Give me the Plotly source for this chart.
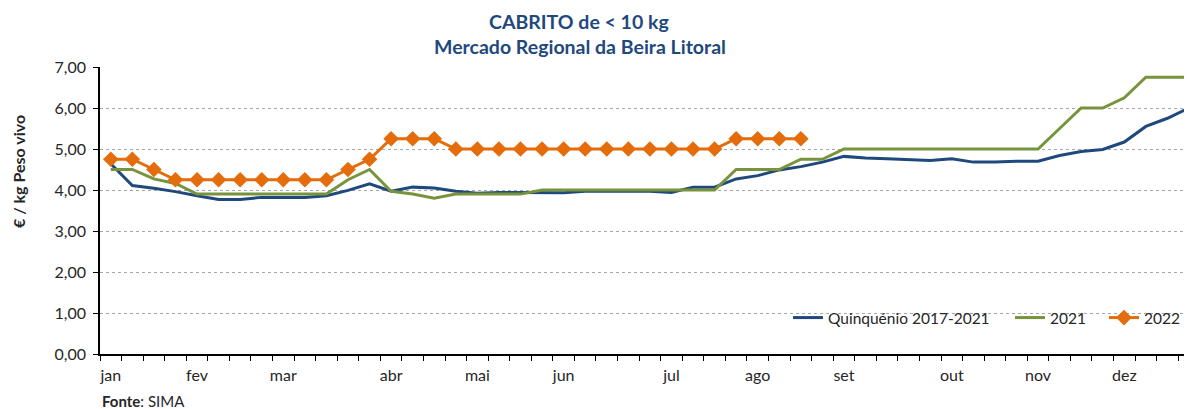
import plotly.graph_objects as go

weeks = list(range(51))
month_idx = [0, 4, 8, 13, 17, 21, 26, 30, 34, 39, 43, 47]
month_lbl = ["jan", "fev", "mar", "abr", "mai", "jun", "jul", "ago", "set", "out", "nov", "dez"]

quinq = [4.64, 4.11, 4.04, 3.96, 3.86, 3.77, 3.77, 3.82, 3.82, 3.82, 3.86, 3.99, 4.15,
         3.97, 4.07, 4.05, 3.97, 3.92, 3.94, 3.94, 3.93, 3.93, 3.97, 3.97, 3.97, 3.97,
         3.94, 4.07, 4.07, 4.27, 4.35, 4.49, 4.57, 4.68, 4.82, 4.78, 4.76, 4.74, 4.72,
         4.76, 4.68, 4.68, 4.70, 4.70, 4.84, 4.94, 4.99, 5.17, 5.55, 5.75, 6.00]
y2021 = [4.50, 4.50, 4.27, 4.16, 3.90, 3.90, 3.90, 3.90, 3.90, 3.90, 3.90, 4.25, 4.50,
         3.97, 3.90, 3.80, 3.90, 3.90, 3.90, 3.90, 4.00, 4.00, 4.00, 4.00, 4.00, 4.00,
         4.00, 4.00, 4.00, 4.50, 4.50, 4.50, 4.75, 4.75, 5.00, 5.00, 5.00, 5.00, 5.00,
         5.00, 5.00, 5.00, 5.00, 5.00, 5.50, 6.00, 6.00, 6.25, 6.75, 6.75, 6.75]
y2022 = [4.75, 4.75, 4.50, 4.25, 4.25, 4.25, 4.25, 4.25, 4.25, 4.25, 4.25, 4.50, 4.75,
         5.25, 5.25, 5.25, 5.00, 5.00, 5.00, 5.00, 5.00, 5.00, 5.00, 5.00, 5.00, 5.00,
         5.00, 5.00, 5.00, 5.25, 5.25, 5.25, 5.25]
y_ticks = [0, 1, 2, 3, 4, 5, 6, 7]
y_ticktext = ["0,00", "1,00", "2,00", "3,00", "4,00", "5,00", "6,00", "7,00"]

FONT = "Lato"
BLUE = "#1F497D"
GREEN = "#77933C"
ORANGE = "#E46C0A"
TXT = "#262626"

fig = go.Figure()
fig.add_trace(go.Scatter(x=weeks, y=quinq, mode="lines", name="Quinquénio 2017-2021",
                         line=dict(color=BLUE, width=3), legend="legend"))
fig.add_trace(go.Scatter(x=weeks, y=y2021, mode="lines", name="2021",
                         line=dict(color=GREEN, width=3), legend="legend2"))
fig.add_trace(go.Scatter(x=weeks[:len(y2022)], y=y2022, mode="lines+markers", name="2022",
                         line=dict(color=ORANGE, width=3),
                         marker=dict(symbol="diamond", size=12, color=ORANGE), legend="legend3"))

# the page body adds an 8px offset; figure is sized to fit inside the window
OFF = 8
W, H = 1184, 401
L, R, T, B = 92, 0, 59, 55
pw = W - L - R
ph = H - T - B


def px_x(x):
    """page pixel x -> paper x"""
    return (x - OFF - L) / pw


def px_y(y):
    """page pixel y -> paper y"""
    return (H - B - (y - OFF)) / ph


leg_common = dict(orientation="h", bgcolor="rgba(0,0,0,0)",
                  font=dict(family=FONT, size=15.5, color=TXT),
                  yanchor="middle", xanchor="left", itemwidth=30, tracegroupgap=0)

fig.update_layout(
    width=W, height=H,
    margin=dict(l=L, r=R, t=T, b=B, autoexpand=False),
    plot_bgcolor="white", paper_bgcolor="white",
    font=dict(family=FONT, size=16, color=TXT),
    showlegend=True,
    legend=dict(x=px_x(788), y=px_y(318), **leg_common),
    legend2=dict(x=px_x(1010), y=px_y(318), **leg_common),
    legend3=dict(x=px_x(1104), y=px_y(318), **leg_common),
    xaxis=dict(range=[-0.5, 50.14], tickmode="array", tickvals=month_idx, ticktext=month_lbl,
               ticks="", showgrid=False, zeroline=False, showline=True, linecolor="black", linewidth=1.5,
               tickfont=dict(family=FONT, size=16, color=TXT), ticklabelstandoff=6, automargin=False,
               minor=dict(tickmode="linear", tick0=-0.5, dtick=1, ticks="outside", ticklen=5,
                          tickcolor="black", tickwidth=1, showgrid=False)),
    yaxis=dict(range=[0, 7], tickmode="array", tickvals=y_ticks, ticktext=y_ticktext,
               showgrid=True, gridcolor="#A6A6A6", griddash="dot", gridwidth=1,
               zeroline=False, showline=True, linecolor="black", linewidth=1.5,
               ticks="outside", ticklen=5, tickcolor="black", ticklabelstandoff=4, automargin=False,
               tickfont=dict(family=FONT, size=16, color=TXT)),
    annotations=[
        dict(text="<b>CABRITO de &lt; 10 kg</b>", x=px_x(579), y=px_y(22),
             font=dict(family=FONT, size=19.5, color=BLUE)),
        dict(text="<b>Mercado Regional da Beira Litoral</b>", x=px_x(580), y=px_y(47),
             font=dict(family=FONT, size=19.5, color=BLUE)),
        dict(text="<b>€ / kg Peso vivo</b>", x=px_x(18), y=px_y(172), textangle=-90,
             font=dict(family=FONT, size=16, color=TXT)),
        dict(text="<b>Fonte</b>: SIMA", x=px_x(100), y=px_y(401), xanchor="left",
             font=dict(family=FONT, size=15, color=TXT)),
    ],
)
for a in fig.layout.annotations:
    a.xref = "paper"
    a.yref = "paper"
    a.showarrow = False
    a.yanchor = "middle"
    if a.xanchor is None:
        a.xanchor = "center"

fig.write_html("out.html")
